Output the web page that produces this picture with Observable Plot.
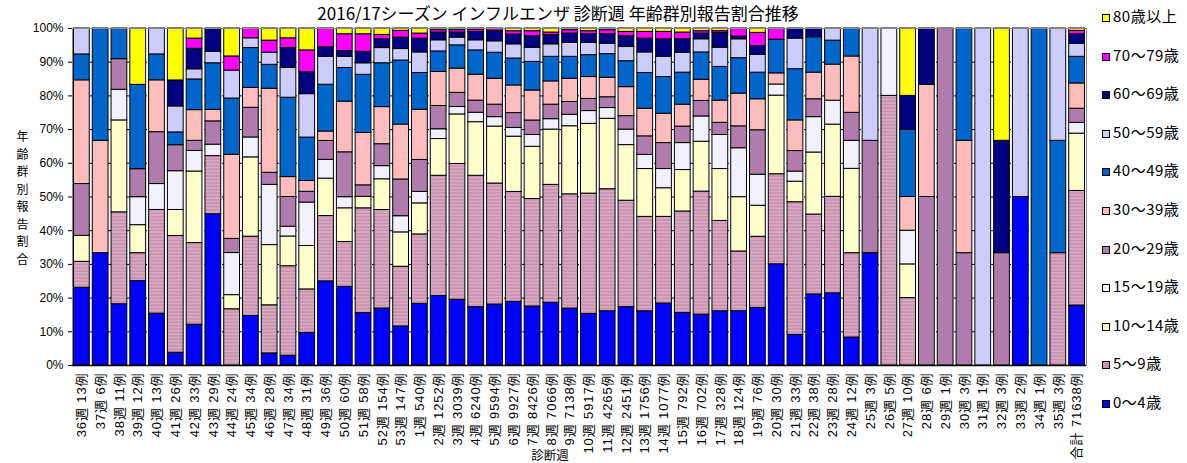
<!DOCTYPE html>
<html><head><meta charset="utf-8">
<script src="https://cdn.jsdelivr.net/npm/d3@7"></script>
<script src="https://cdn.jsdelivr.net/npm/@observablehq/plot@0.6"></script>
<style>
body{margin:0;background:#fff;font-family:"Liberation Sans","Noto Sans CJK JP",sans-serif;}
#wrap{position:relative;width:1187px;height:463px;overflow:hidden;}
#title{position:absolute;top:0;left:0;width:1116px;text-align:center;font-size:17px;line-height:normal;color:#000;font-family:"Noto Sans CJK JP",sans-serif;white-space:nowrap;}
#xlab{position:absolute;left:0;width:1100px;top:445px;line-height:normal;text-align:center;font-size:12.5px;font-family:"Noto Sans CJK JP",sans-serif;}
#legend{position:absolute;left:1100px;top:0;}
.li{position:absolute;left:0;height:20px;white-space:nowrap;font-size:15px;font-family:"Noto Sans CJK JP",sans-serif;}
.sw{position:absolute;left:2px;top:6px;width:6px;height:6px;border:1px solid #000;}
.lt{position:absolute;left:13px;top:-2px;line-height:20px;letter-spacing:0.5px;}
</style></head>
<body><div id="wrap"><div id="title">2016/17シーズン インフルエンザ 診断週 年齢群別報告割合推移</div><div id="xlab">診断週</div><div id="legend"></div></div>
<script>
const weeks = ["36","37","38","39","40","41","42","43","44","45","46","47","48","49","50","51","52","53","1","2","3","4","5","6","7","8","9","10","11","12","13","14","15","16","17","18","19","20","21","22","23","24","25","26","27","28","29","30","31","32","33","34","35","合計"];
const counts = [13,6,11,12,13,26,33,29,24,34,28,34,31,36,60,58,154,147,540,1252,3039,6240,9594,9927,8426,7066,7138,5917,4265,2451,1756,1077,792,702,328,124,76,30,33,38,28,12,3,5,10,6,1,3,1,3,2,1,3,71638];
const ages = ["0～4歳","5～9歳","10～14歳","15～19歳","20～29歳","30～39歳","40～49歳","50～59歳","60～69歳","70～79歳","80歳以上"];
const yTitle = "年齢群別報告割合";

const age0_4 = [23.1,33.3,18.2,25,15.4,3.8,12.1,44.8,0,14.7,3.6,2.9,9.7,25,23.3,15.5,16.9,11.6,18.3,20.6,19.5,17.3,18.1,18.9,17.5,18.6,16.9,15.3,16.1,17.3,16.1,18.4,15.6,15.1,16.1,16.1,17.1,30,9.1,21.1,21.4,8.3,33.3,0,0,0,0,0,0,0,50,0,0,17.8];
const age5_9 = [7.7,0,27.3,8.3,30.8,34.6,24.2,17.2,16.7,23.5,14.3,26.5,12.9,19.4,13.3,31.0,29.2,17.7,20.6,35.7,40.3,39.0,35.9,32.6,31.9,35.0,33.9,35.7,36.2,31.6,28.0,25.7,30.1,36.5,26.8,17.7,21.1,26.7,39.4,23.7,28.6,25,0,80,20,0,0,0,0,0,0,0,33.3,34.0];
const age10_14 = [7.7,0,27.3,8.3,0,7.7,21.2,0,4.2,23.5,17.9,8.8,12.9,11.1,10,3.4,9.1,10.2,9.2,10.9,14.7,15.9,16.9,16.4,15.5,16.4,20.2,20.7,20.9,16.5,14.2,8.5,12.3,14.8,15.4,16.1,9.2,23.3,6.1,18.4,21.4,25,0,0,10,0,0,0,0,0,0,0,0,17.0];
const age15_19 = [0,0,9.1,8.3,7.7,11.5,6.1,3.4,12.5,5.9,17.9,2.9,12.9,5.6,3.3,0,3.9,4.8,3.4,2.9,2.2,2.8,2.8,2.6,3.5,3.1,3.4,3.8,3.2,4.6,4.2,5.7,8.0,7.5,10.1,14.5,9.2,3.3,3.0,10.5,7.1,8.3,0,20,10,0,0,0,0,0,0,0,0,3.2];
const age20_29 = [15.4,0,9.1,8.3,15.4,7.7,3.0,6.9,4.2,8.8,3.6,8.8,3.2,5.6,13.3,3.4,6.5,10.9,9.5,6.9,4.2,3.6,3.7,4.4,4.3,4.3,3.8,3.6,3.2,4.0,5.5,7.7,4.9,4.6,3.6,6.5,13.2,0,6.1,5.3,0,8.3,33.3,0,0,50,100,33.3,0,33.3,0,0,0,4.2];
const age30_39 = [30.8,33.3,0,0,15.4,0,9.1,3.4,25,5.9,25.0,5.9,3.2,2.8,15,15.5,11.0,16.3,14.9,10.1,7.2,7.7,7.7,8.2,8.9,6.9,6.9,6.5,5.8,8.6,8.2,8.7,6.5,6.3,6.6,9.7,9.2,3.3,9.1,7.9,10.7,16.7,0,0,10,33.3,0,33.3,0,0,0,0,0,7.5];
const age40_49 = [7.7,33.3,9.1,25,7.7,3.8,9.1,13.8,16.7,11.8,7.1,23.5,12.9,13.9,10,17.2,13.0,19.0,10.9,6.1,6.9,7.2,7.7,8.0,8.5,7.3,6.5,6.5,7.0,7.7,10.6,10.9,9.5,8.1,10.0,10.5,7.9,10,15.2,10.5,7.1,8.3,0,0,20,0,0,33.3,0,0,0,100,33.3,7.9];
const age50_59 = [7.7,0,0,0,7.7,7.7,3.0,3.4,8.3,2.9,3.6,8.8,12.9,8.3,3.3,3.4,4.5,3.4,6.1,3.3,2.3,3.0,3.4,4.2,4.2,3.7,4.1,3.6,3.1,4.2,6.1,6.0,5.9,3.9,5.7,5.6,5.3,0,9.1,0,3.6,0,33.3,0,0,0,0,0,100,0,50,0,33.3,3.9];
const age60_69 = [0,0,0,0,0,7.7,6.1,6.9,0,0,0,5.9,6.5,2.8,1.7,3.4,2.6,3.4,4.1,2.3,1.5,2.5,3.0,2.9,3.4,2.7,2.8,2.6,2.8,3.2,4.1,5.2,4.0,1.7,4.4,0.8,2.6,0,3.0,2.6,0,0,0,0,10,16.7,0,0,0,33.3,0,0,0,2.8];
const age70_79 = [0,0,0,0,0,0,3.0,0,4.2,2.9,3.6,2.9,6.5,5.6,5,5.2,1.3,2.0,1.5,0.7,0.7,0.7,0.6,1.0,1.5,0.8,1.0,0.9,1.2,1.3,2.0,2.2,2.0,0.7,0.5,2.4,3.9,3.3,0,0,0,0,0,0,0,0,0,0,0,0,0,0,0,1.0];
const age80 = [0,0,0,16.7,0,15.4,3.0,0,8.3,0,3.6,2.9,6.5,0,1.7,1.7,1.9,0.7,1.5,0.5,0.5,0.3,0.2,0.8,0.8,1.2,0.5,0.8,0.5,1.0,1.0,1.0,1.2,0.8,0.8,0,1.3,0,0,0,0,0,0,0,20,0,0,0,0,33.3,0,0,0,0.7];

const series = [age0_4,age5_9,age10_14,age15_19,age20_29,age30_39,age40_49,age50_59,age60_69,age70_79,age80];
const colors = ["#0000ff","url(#stripe59)","#ffffcc","#f1f1fb","#b07cae","#ffbcbc","#0066cc","#ccccff","#000080","#ff00ff","#ffff00"];
const legendColors = ["#0000ff","#c995b3","#ffffcc","#f1f1fb","#b07cae","#ffbcbc","#0066cc","#ccccff","#000080","#ff00ff","#ffff00"];

const categories = weeks.map((w, i) => w === "合計" ? `合計 ${counts[i]}例` : `${w}週 ${counts[i]}例`);
const data = ages.flatMap((a, j) => series[j].map((v, i) => ({cat: categories[i], age: a, v})));

const chart = Plot.plot({
  width: 1187, height: 463,
  marginLeft: 72, marginRight: 101, marginTop: 28, marginBottom: 98,
  style: {fontFamily: '"Liberation Sans","Noto Sans CJK JP",sans-serif', background: "transparent"},
  x: {domain: categories, paddingInner: 0.16, paddingOuter: 0.08, axis: null},
  y: {domain: [0, 1], axis: null},
  color: {domain: ages, range: colors},
  marks: [
    Plot.gridY(d3.range(1, 10).map(d => d / 10), {stroke: "#000", strokeOpacity: 1, strokeDasharray: "3,3"}),
    Plot.barY(data, Plot.stackY({x: "cat", y: "v", fill: "age", order: ages, offset: "normalize", stroke: "#000", strokeWidth: 1})),
    Plot.frame({stroke: "#888", strokeWidth: 1}),
    Plot.ruleY([0], {stroke: "#000", strokeWidth: 1.5}),
    Plot.axisY(d3.range(0, 11).map(d => d / 10), {tickFormat: d => Math.round(d * 100) + "%", tickSize: 4, tickPadding: 5, fontSize: 12, label: null, stroke: "#000"}),
    Plot.text(categories, {x: d => d, frameAnchor: "bottom", dy: 7, rotate: -90, textAnchor: "end", lineAnchor: "middle", fontSize: 13, fill: "#000", fontFamily: '"Liberation Sans","Noto Sans CJK JP",sans-serif'}),
    Plot.text([yTitle.split("").join("\n")], {y: () => 0.5, frameAnchor: "left", dx: -50, textAnchor: "middle", lineAnchor: "middle", lineHeight: 1.46, fontSize: 12, fill: "#000", fontFamily: '"Noto Sans CJK JP",sans-serif'})
  ]
});

// letter spacing for the week labels
const textGroups = chart.querySelectorAll('g[aria-label="text"]');
textGroups[0].querySelectorAll("text").forEach(t => t.setAttribute("letter-spacing", "0.9"));

// pattern for 5～9歳
const ns = "http://www.w3.org/2000/svg";
const defs = document.createElementNS(ns, "defs");
defs.innerHTML = '<pattern id="stripe59" patternUnits="userSpaceOnUse" width="4" height="3.4"><rect width="4" height="3.4" fill="#d9a9c2"/><rect y="1.9" width="4" height="1.5" fill="#c690ad"/></pattern>';
chart.insertBefore(defs, chart.firstChild);
chart.style.position = "absolute";
chart.style.left = "0";
chart.style.top = "0";
const wrap = document.getElementById("wrap");
wrap.insertBefore(chart, wrap.firstChild);

// legend (top to bottom: 80歳以上 ... 0～4歳)
const leg = document.getElementById("legend");
const order = ages.map((a, i) => i).reverse();
order.forEach((i, k) => {
  const d = document.createElement("div");
  d.className = "li";
  d.style.top = (8 + k * 38.6) + "px";
  d.innerHTML = `<span class="sw" style="background:${legendColors[i]}"></span><span class="lt">${ages[i]}</span>`;
  leg.appendChild(d);
});
</script></body></html>
